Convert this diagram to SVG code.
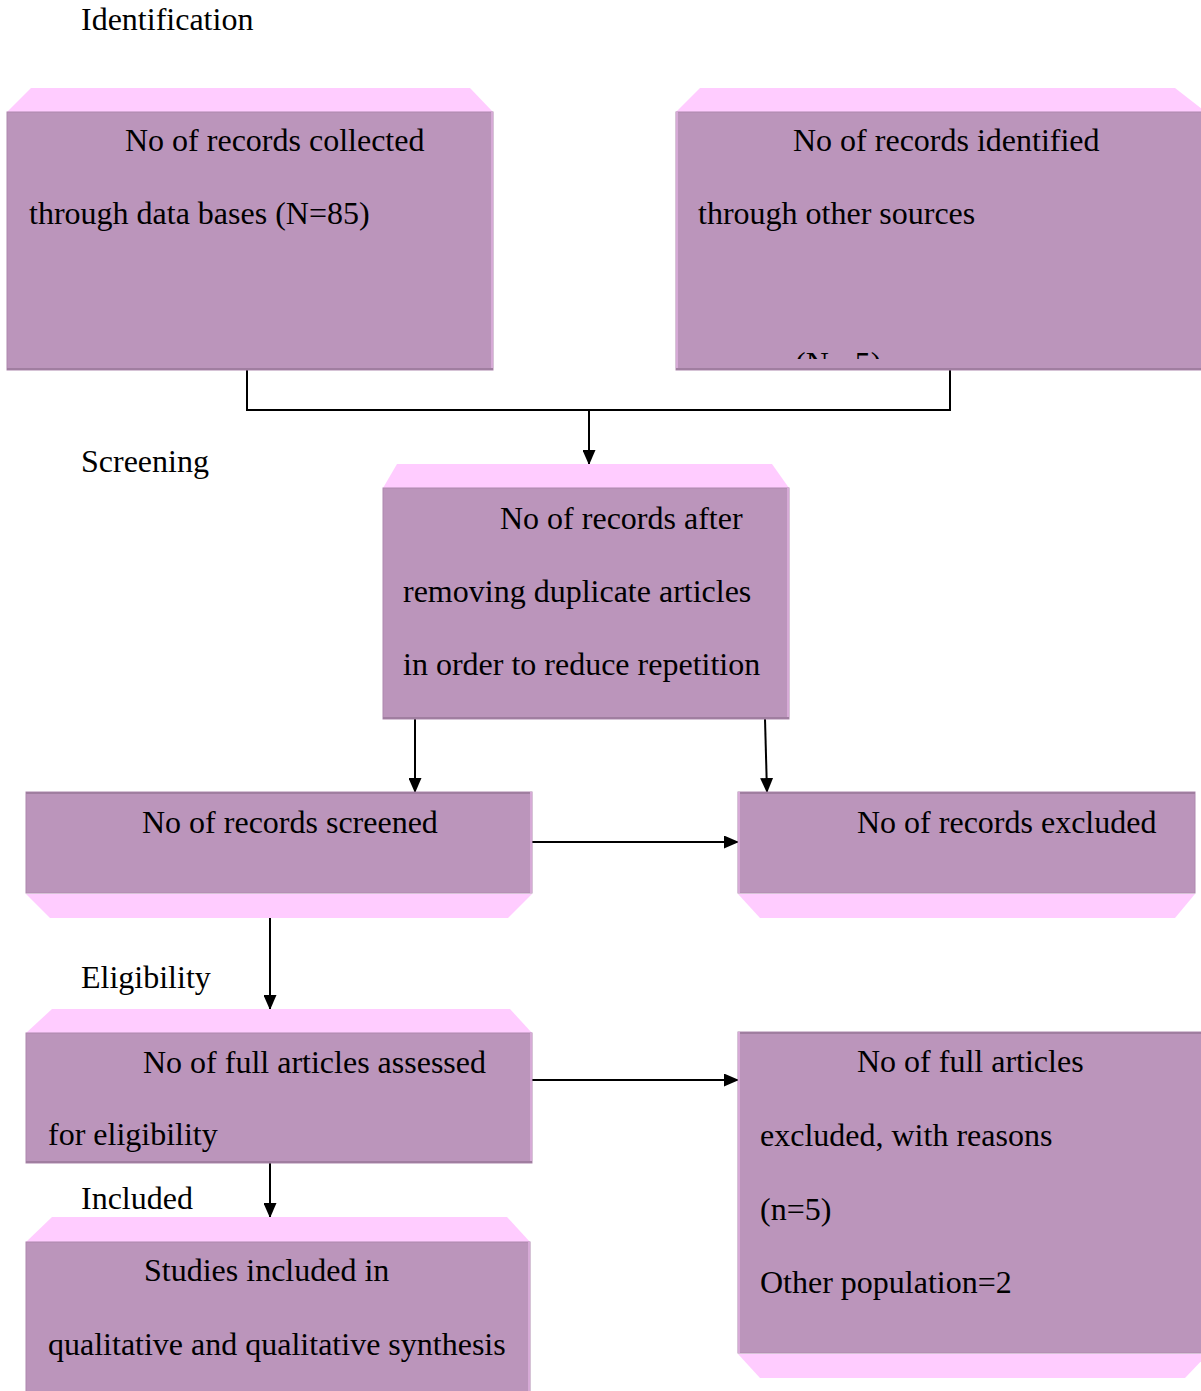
<svg xmlns="http://www.w3.org/2000/svg" width="1201" height="1391" viewBox="0 0 1201 1391">
<style>
  .body { fill: #BB95BB; stroke: #AE88AE; stroke-width: 1; }
  .bevel { fill: #FFCCFF; stroke: none; }
  .edge-dark { stroke: #A07EA0; stroke-width: 2; }
  .edge-light { stroke: #D6AAD6; stroke-width: 2; }
  .t { font-family: "Liberation Serif", "Times New Roman", serif; font-size: 32px; fill: #000; }
  .conn { stroke: #000; stroke-width: 2; fill: none; }
</style>
<defs>
  <marker id="arrow" markerWidth="15" markerHeight="13" refX="14" refY="6.5" orient="auto" markerUnits="userSpaceOnUse">
    <path d="M0,0 L15,6.5 L0,13 Z" fill="#000"/>
  </marker>
  <clipPath id="c1"><rect x="7" y="112" width="486" height="248"/></clipPath>
  <clipPath id="c2"><rect x="676" y="112" width="530" height="247"/></clipPath>
  <clipPath id="c3"><rect x="383" y="488" width="406" height="222"/></clipPath>
  <clipPath id="c4"><rect x="26" y="792" width="506" height="94"/></clipPath>
  <clipPath id="c5"><rect x="738" y="792" width="457" height="94"/></clipPath>
  <clipPath id="c6"><rect x="26" y="1033" width="506" height="124"/></clipPath>
  <clipPath id="c7"><rect x="738" y="1032" width="470" height="314"/></clipPath>
  <clipPath id="c8"><rect x="26" y="1242" width="504" height="160"/></clipPath>
</defs>

<g id="labels">
  <text class="t" x="81" y="30">Identification</text>
  <text class="t" x="81" y="472">Screening</text>
  <text class="t" x="81" y="988">Eligibility</text>
  <text class="t" x="81" y="1209">Included</text>
</g>

<g id="connectors">
  <polyline class="conn" points="247,370 247,410 950,410 950,370"/>
  <line class="conn" x1="589" y1="410" x2="589" y2="464" marker-end="url(#arrow)"/>
  <line class="conn" x1="415" y1="719" x2="415" y2="792" marker-end="url(#arrow)"/>
  <line class="conn" x1="765" y1="719" x2="767" y2="792" marker-end="url(#arrow)"/>
  <line class="conn" x1="532" y1="842" x2="738" y2="842" marker-end="url(#arrow)"/>
  <line class="conn" x1="270" y1="918" x2="270" y2="1009" marker-end="url(#arrow)"/>
  <line class="conn" x1="532" y1="1080" x2="738" y2="1080" marker-end="url(#arrow)"/>
  <line class="conn" x1="270" y1="1163" x2="270" y2="1217" marker-end="url(#arrow)"/>
</g>

<g id="node-databases">
  <polygon class="bevel" points="7,112 31,88 470,88 493,112"/>
  <rect class="body" x="7" y="112" width="486" height="258"/>
  <line class="edge-light" x1="492" y1="112" x2="492" y2="370"/>
  <line class="edge-dark" x1="7" y1="369" x2="493" y2="369"/>
  <g clip-path="url(#c1)">
    <text class="t" x="125" y="151">No of records collected</text>
    <text class="t" x="29" y="224">through data bases (N=85)</text>
  </g>
</g>

<g id="node-other-sources">
  <polygon class="bevel" points="676,112 700,88 1175,88 1206,112"/>
  <rect class="body" x="676" y="112" width="530" height="258"/>
  <line class="edge-light" x1="677" y1="112" x2="677" y2="370"/>
  <line class="edge-dark" x1="676" y1="369" x2="1206" y2="369"/>
  <g clip-path="url(#c2)">
    <text class="t" x="793" y="151">No of records identified</text>
    <text class="t" x="698" y="224">through other sources</text>
    <text class="t" x="795" y="374">(N= 5)</text>
  </g>
</g>

<g id="node-duplicates">
  <polygon class="bevel" points="383,488 397,464 772,464 789,488"/>
  <rect class="body" x="383" y="488" width="406" height="231"/>
  <line class="edge-light" x1="788" y1="488" x2="788" y2="719"/>
  <line class="edge-dark" x1="383" y1="718" x2="789" y2="718"/>
  <g clip-path="url(#c3)">
    <text class="t" x="500" y="529">No of records after</text>
    <text class="t" x="403" y="602">removing duplicate articles</text>
    <text class="t" x="403" y="675">in order to reduce repetition</text>
  </g>
</g>

<g id="node-screened">
  <rect class="body" x="26" y="792" width="506" height="101"/>
  <line class="edge-dark" x1="26" y1="793" x2="532" y2="793"/>
  <line class="edge-light" x1="531" y1="792" x2="531" y2="893"/>
  <polygon class="bevel" points="26,894 532,894 508,918 50,918"/>
  <g clip-path="url(#c4)">
    <text class="t" x="142" y="833">No of records screened</text>
  </g>
</g>

<g id="node-excluded">
  <rect class="body" x="738" y="792" width="457" height="101"/>
  <line class="edge-dark" x1="738" y1="793" x2="1195" y2="793"/>
  <line class="edge-light" x1="739" y1="792" x2="739" y2="893"/>
  <polygon class="bevel" points="738,894 1195,894 1175,918 760,918"/>
  <g clip-path="url(#c5)">
    <text class="t" x="857" y="833">No of records excluded</text>
  </g>
</g>

<g id="node-assessed">
  <polygon class="bevel" points="26,1033 52,1009 510,1009 532,1033"/>
  <rect class="body" x="26" y="1033" width="506" height="130"/>
  <line class="edge-light" x1="531" y1="1033" x2="531" y2="1163"/>
  <line class="edge-dark" x1="26" y1="1162" x2="532" y2="1162"/>
  <g clip-path="url(#c6)">
    <text class="t" x="143" y="1073">No of full articles assessed</text>
    <text class="t" x="48" y="1145">for eligibility</text>
  </g>
</g>

<g id="node-full-excluded">
  <rect class="body" x="738" y="1032" width="470" height="321"/>
  <line class="edge-dark" x1="738" y1="1033" x2="1208" y2="1033"/>
  <line class="edge-light" x1="739" y1="1032" x2="739" y2="1353"/>
  <polygon class="bevel" points="738,1354 1208,1354 1185,1378 760,1378"/>
  <g clip-path="url(#c7)">
    <text class="t" x="857" y="1072">No of full articles</text>
    <text class="t" x="760" y="1146">excluded, with reasons</text>
    <text class="t" x="760" y="1220">(n=5)</text>
    <text class="t" x="760" y="1293">Other population=2</text>
  </g>
</g>

<g id="node-included">
  <polygon class="bevel" points="26,1242 52,1217 507,1217 530,1242"/>
  <rect class="body" x="26" y="1242" width="504" height="160"/>
  <line class="edge-light" x1="529" y1="1242" x2="529" y2="1402"/>
  <g clip-path="url(#c8)">
    <text class="t" x="144" y="1281">Studies included in</text>
    <text class="t" x="48" y="1355">qualitative and qualitative synthesis</text>
  </g>
</g>
</svg>
